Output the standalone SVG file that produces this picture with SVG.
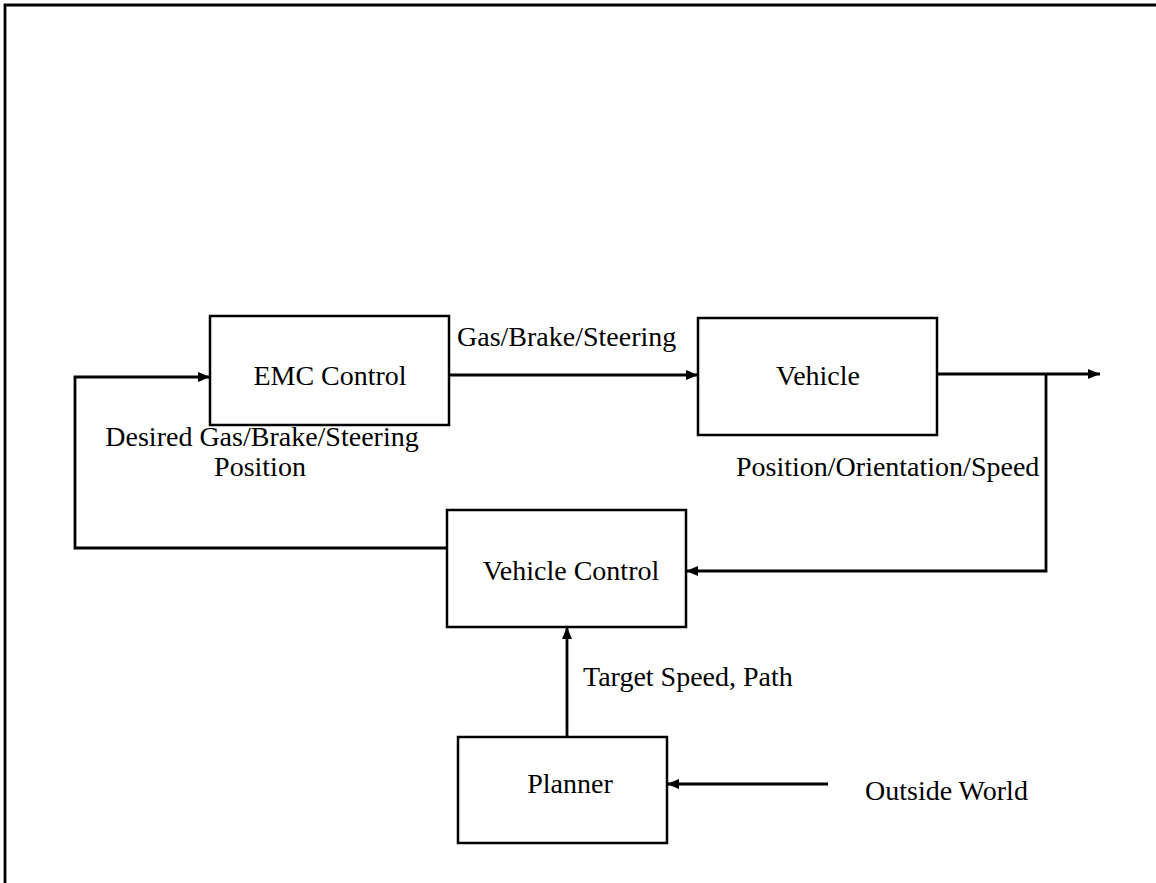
<svg xmlns="http://www.w3.org/2000/svg" width="1156" height="883" viewBox="0 0 1156 883">
<style>
.box{fill:#fff;stroke:#000;stroke-width:2.5}
.ln{fill:none;stroke:#000;stroke-width:2.8}
text{font-family:"Liberation Serif","Times New Roman",serif;font-size:28px;fill:#000}
.c{text-anchor:middle}
</style>
<defs>
<marker id="ah" viewBox="0 0 12 12" refX="12" refY="6" markerWidth="12" markerHeight="12" markerUnits="userSpaceOnUse" orient="auto">
<path d="M0,1 L12,6 L0,11 Z" fill="#000"/>
</marker>
</defs>
<rect width="1156" height="883" fill="#fff"/>
<path class="ln" d="M5,883 V5 H1156" stroke-width="3.5"/>
<g id="connectors">
<path class="ln" d="M449,375 H698" marker-end="url(#ah)"/>
<path class="ln" d="M937,374 H1100" marker-end="url(#ah)"/>
<path class="ln" d="M1046,374 V571 H686" marker-end="url(#ah)"/>
<path class="ln" d="M447,548 H75 V377 H210" marker-end="url(#ah)"/>
<path class="ln" d="M567,737 V627" marker-end="url(#ah)"/>
<path class="ln" d="M828,784 H667" marker-end="url(#ah)"/>
</g>
<g id="emc">
<rect class="box" x="210" y="316" width="239" height="109"/>
<text class="c" x="330" y="385">EMC Control</text>
</g>
<g id="vehicle">
<rect class="box" x="698" y="318" width="239" height="117"/>
<text class="c" x="818" y="385">Vehicle</text>
</g>
<g id="vehicle-control">
<rect class="box" x="447" y="510" width="239" height="117"/>
<text class="c" x="571" y="580">Vehicle Control</text>
</g>
<g id="planner">
<rect class="box" x="458" y="737" width="209" height="106"/>
<text class="c" x="570" y="793">Planner</text>
</g>
<g id="labels">
<text x="457" y="346">Gas/Brake/Steering</text>
<text class="c" x="262" y="446">Desired Gas/Brake/Steering</text>
<text class="c" x="260" y="476">Position</text>
<text x="736" y="476">Position/Orientation/Speed</text>
<text x="583" y="686">Target Speed, Path</text>
<text x="865" y="800">Outside World</text>
</g>
</svg>
